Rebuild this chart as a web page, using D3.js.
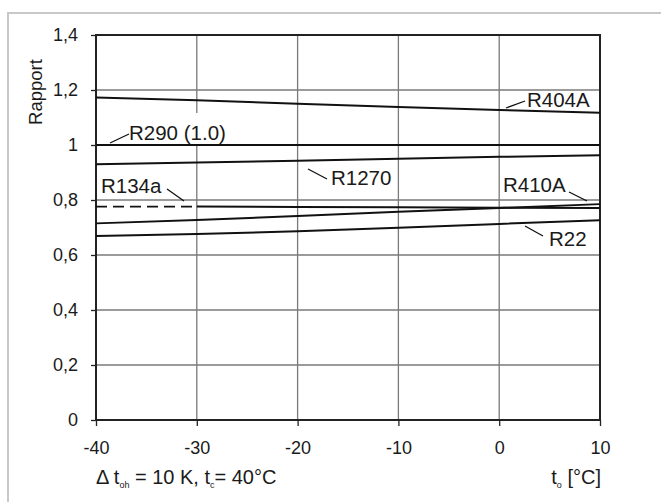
<!DOCTYPE html>
<html>
<head>
<meta charset="utf-8">
<script src="https://cdn.jsdelivr.net/npm/d3@7/dist/d3.min.js"></script>
<style>
  html, body { margin: 0; padding: 0; background: #fff; }
  svg { display: block; }
  text { font-family: "Liberation Sans", Arial, sans-serif; fill: #1a1a1a; }
</style>
</head>
<body>
<svg id="chart" width="661" height="502"></svg>
<script>
// ---- data ----
const temps = [-40, -30, -20, -10, 0, 10];
const R404A = [1.173, 1.163, 1.150, 1.138, 1.127, 1.117];
const R290  = [1.0, 1.0, 1.0, 1.0, 1.0, 1.0];
const R1270 = [0.930, 0.936, 0.943, 0.950, 0.957, 0.963];
const R134a = [0.776, 0.776, 0.775, 0.774, 0.772, 0.771];
const R410A = [0.715, 0.727, 0.742, 0.757, 0.771, 0.785];
const R22   = [0.669, 0.676, 0.686, 0.699, 0.713, 0.726];
const yTickValues = [0, 0.2, 0.4, 0.6, 0.8, 1.0, 1.2, 1.4];
const yTickLabels = ["0", "0,2", "0,4", "0,6", "0,8", "1", "1,2", "1,4"];
const xTickValues = [-40, -30, -20, -10, 0, 10];
const xTickLabels = ["-40", "-30", "-20", "-10", "0", "10"];
const dashedUntil = -30; // R134a dashed segment end

const svg = d3.select("#chart");
const W = 661, H = 502;
const m = {left: 96, right: 61, top: 35, bottom: 82};
const x = d3.scaleLinear().domain([-40, 10]).range([m.left, W - m.right]);
const y = d3.scaleLinear().domain([0, 1.4]).range([H - m.bottom, m.top]);
const FONT = '"Liberation Sans", Arial, sans-serif';

// outer frame (left + top visible)
svg.append("line").attr("x1", 8).attr("x2", 8).attr("y1", 13).attr("y2", H)
  .attr("stroke", "#c8c8c8").attr("stroke-width", 2);
svg.append("line").attr("x1", 7).attr("x2", W).attr("y1", 13).attr("y2", 13)
  .attr("stroke", "#c8c8c8").attr("stroke-width", 2);

// grid
const grid = svg.append("g");
grid.selectAll("line.h").data(yTickValues).enter().append("line")
  .attr("x1", x(-40)).attr("x2", x(10))
  .attr("y1", d => y(d)).attr("y2", d => y(d))
  .attr("stroke", "#7a7a7a").attr("stroke-width", 1.4);
grid.selectAll("line.v").data(xTickValues).enter().append("line")
  .attr("y1", y(0)).attr("y2", y(1.4))
  .attr("x1", d => x(d)).attr("x2", d => x(d))
  .attr("stroke", "#7a7a7a").attr("stroke-width", 1.3);

// axes
const yAxis = d3.axisLeft(y).tickValues(yTickValues).tickSize(5).tickPadding(13)
  .tickFormat((d, i) => yTickLabels[i]);
const gy = svg.append("g").attr("transform", `translate(${m.left},0)`).call(yAxis);
gy.select(".domain").remove();
gy.selectAll(".tick line").attr("stroke", "#222").attr("stroke-width", 1.3);
gy.selectAll(".tick text").attr("font-size", 18).attr("fill", "#1a1a1a")
  .style("font-family", FONT);

const xAxis = d3.axisBottom(x).tickValues(xTickValues).tickSize(6).tickPadding(15)
  .tickFormat((d, i) => xTickLabels[i]);
const gx = svg.append("g").attr("transform", `translate(0,${y(0)})`).call(xAxis);
gx.select(".domain").remove();
gx.selectAll(".tick line").attr("stroke", "#222").attr("stroke-width", 1.3);
gx.selectAll(".tick text").attr("font-size", 18).attr("fill", "#1a1a1a")
  .style("font-family", FONT);

// plot border
svg.append("rect").attr("x", x(-40)).attr("y", y(1.4))
  .attr("width", x(10) - x(-40)).attr("height", y(0) - y(1.4))
  .attr("fill", "none").attr("stroke", "#222").attr("stroke-width", 2);

// white background behind R290 label (hides grid)
svg.append("rect").attr("x", 128).attr("y", 113).attr("width", 102).attr("height", 31)
  .attr("fill", "#fff");

// series lines
const line = d3.line().x(d => x(d[0])).y(d => y(d[1]));
const series = [R404A, R290, R1270, R410A, R22];
series.forEach(s => {
  svg.append("path").datum(temps.map((t, i) => [t, s[i]]))
    .attr("d", line).attr("fill", "none").attr("stroke", "#111").attr("stroke-width", 2);
});
const r134 = temps.map((t, i) => [t, R134a[i]]);
svg.append("path").datum(r134.filter(d => d[0] <= dashedUntil))
  .attr("d", line).attr("fill", "none").attr("stroke", "#111").attr("stroke-width", 1.6)
  .attr("stroke-dasharray", "11,6");
svg.append("path").datum(r134.filter(d => d[0] >= dashedUntil))
  .attr("d", line).attr("fill", "none").attr("stroke", "#111").attr("stroke-width", 2);

// labels with leader lines
const labels = [
  {t: "R404A",      tx: 527, ty: 107, lx1: 506, ly1: 108, lx2: 525, ly2: 101},
  {t: "R290 (1.0)", tx: 129, ty: 140, lx1: 110, ly1: 143, lx2: 129, ly2: 134},
  {t: "R1270",      tx: 331, ty: 185, lx1: 308, ly1: 169, lx2: 327, ly2: 179},
  {t: "R134a",      tx: 101, ty: 193, lx1: 167, ly1: 189, lx2: 184, ly2: 201},
  {t: "R410A",      tx: 503, ty: 192, lx1: 569, ly1: 192, lx2: 587, ly2: 201},
  {t: "R22",        tx: 549, ty: 246, lx1: 525, ly1: 226, lx2: 543, ly2: 236}
];
labels.forEach(l => {
  svg.append("line").attr("x1", l.lx1).attr("y1", l.ly1).attr("x2", l.lx2).attr("y2", l.ly2)
    .attr("stroke", "#111").attr("stroke-width", 1.3);
  svg.append("text").attr("x", l.tx).attr("y", l.ty).attr("font-size", 20.5).text(l.t);
});

// y axis title
svg.append("text").attr("transform", "translate(42,92) rotate(-90)")
  .attr("text-anchor", "middle").attr("font-size", 18.5).text("Rapport");

// bottom annotations
const note = svg.append("text").attr("x", 96).attr("y", 484).attr("font-size", 20);
note.append("tspan").text("\u0394 t");
note.append("tspan").attr("font-size", 9).attr("dy", 4).text("oh");
note.append("tspan").attr("dy", -4).text(" = 10 K, t");
note.append("tspan").attr("font-size", 9).attr("dy", 4).text("c");
note.append("tspan").attr("dy", -4).text("= 40°C");

const xt = svg.append("text").attr("x", 601).attr("y", 484).attr("font-size", 20)
  .attr("text-anchor", "end");
xt.append("tspan").text("t");
xt.append("tspan").attr("font-size", 9).attr("dy", 4).text("o");
xt.append("tspan").attr("dy", -4).text(" [°C]");
</script>
</body>
</html>
